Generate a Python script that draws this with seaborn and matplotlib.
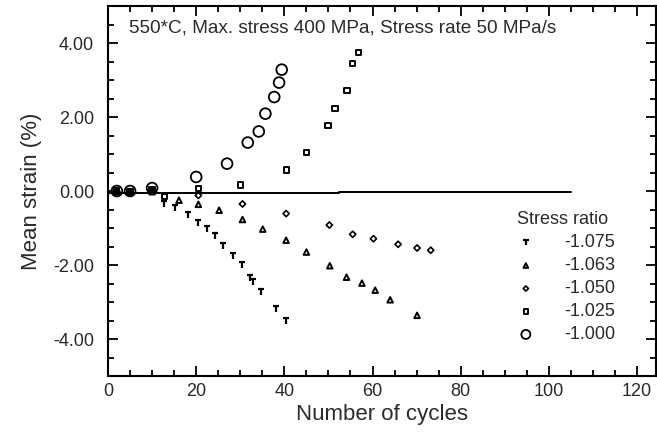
import numpy as np
import pandas as pd
import matplotlib
matplotlib.use("Agg")
import matplotlib.pyplot as plt
from matplotlib.path import Path
from matplotlib.ticker import MultipleLocator, FormatStrFormatter
import seaborn as sns

# ---------------- data ----------------
ratio_labels = ["-1.075", "-1.063", "-1.050", "-1.025", "-1.000"]

x_1075 = [2, 5, 10, 12.7, 15.3, 18.2, 20.5, 22.5, 24.3, 26.1, 28.3, 30.5, 32.2, 32.9, 34.8, 38.2, 40.4]
y_1075 = [-0.02, -0.04, -0.03, -0.36, -0.45, -0.66, -0.86, -1.03, -1.22, -1.48, -1.75, -2.01, -2.36, -2.47, -2.72, -3.19, -3.52]

x_1063 = [2, 5, 10, 16.1, 20.5, 25.2, 30.5, 35.1, 40.4, 45.0, 50.3, 54.1, 57.6, 60.6, 64.0, 70.1]
y_1063 = [-0.02, -0.03, -0.02, -0.25, -0.36, -0.52, -0.77, -1.03, -1.33, -1.65, -2.02, -2.33, -2.49, -2.68, -2.94, -3.36]

x_1050 = [2, 5, 10, 20.5, 30.5, 40.4, 50.2, 55.5, 60.2, 65.8, 70.1, 73.2]
y_1050 = [-0.01, -0.02, -0.01, -0.12, -0.35, -0.61, -0.92, -1.17, -1.29, -1.44, -1.54, -1.60]

x_1025 = [2, 5, 10, 12.8, 20.5, 30.0, 40.4, 45.0, 49.9, 51.5, 54.2, 55.4, 56.8]
y_1025 = [0.0, -0.01, 0.05, -0.14, 0.06, 0.16, 0.57, 1.04, 1.77, 2.24, 2.71, 3.45, 3.75]

x_1000 = [2, 5, 10, 20.0, 27.0, 31.7, 34.2, 35.7, 37.7, 38.8, 39.4]
y_1000 = [0.0, 0.0, 0.08, 0.38, 0.74, 1.31, 1.61, 2.09, 2.54, 2.93, 3.28]

zero_x = [0, 52.5, 52.5, 105]
zero_y = [-0.06, -0.06, -0.02, -0.02]

title_text = "550*C, Max. stress 400 MPa, Stress rate 50 MPa/s"

# ---------------- style ----------------
sns.set_theme(style="ticks")
plt.rcParams["font.family"] = ["Liberation Sans", "DejaVu Sans"]
txt_color = "#2a2a2a"

fig = plt.figure(figsize=(6.57, 4.33), dpi=100)
ax = fig.add_axes([0.1644, 0.1316, 0.8341, 0.8545])

t_marker = Path([(-1, 1), (1, 1), (0, 1), (0, -1)],
                [Path.MOVETO, Path.LINETO, Path.MOVETO, Path.LINETO])

series = [
    (x_1075, y_1075, t_marker, 22, 1.6),
    (x_1063, y_1063, "^", 16, 1.4),
    (x_1050, y_1050, "D", 10, 1.2),
    (x_1025, y_1025, "s", 14, 1.4),
    (x_1000, y_1000, "o", 60, 1.3),
]

handles = []
for (xs, ys, mk, size, lw), lab in zip(series, ratio_labels):
    df = pd.DataFrame({"cycles": xs, "strain": ys})
    sns.scatterplot(data=df, x="cycles", y="strain", ax=ax, marker=mk, s=size,
                    facecolors="none" if mk != t_marker else "black",
                    edgecolor="black", linewidth=lw, color="black", zorder=3)
    h = ax.scatter([], [], marker=mk, s=size * 0.7, facecolors="none",
                   edgecolors="black", linewidths=lw)
    handles.append(h)

ax.plot(zero_x, zero_y, color="black", lw=1.4, zorder=2)

ax.set_xlim(0, 124.3)
ax.set_ylim(-5, 5)
ax.xaxis.set_major_locator(MultipleLocator(20))
ax.xaxis.set_minor_locator(MultipleLocator(5))
ax.yaxis.set_major_locator(MultipleLocator(2))
ax.yaxis.set_minor_locator(MultipleLocator(0.5))
ax.yaxis.set_major_formatter(FormatStrFormatter("%.2f"))

ax.tick_params(which="both", direction="in", top=True, right=True,
               colors="black", labelcolor=txt_color, labelsize=13, width=1.3)
ax.tick_params(which="major", length=7)
ax.tick_params(which="minor", length=4)
ax.tick_params(axis="x", pad=5)
ax.tick_params(axis="y", pad=10)
for sp in ax.spines.values():
    sp.set_linewidth(1.5)
    sp.set_color("black")

ax.set_xlabel("Number of cycles", fontsize=16, color=txt_color, labelpad=3)
ax.set_ylabel("Mean strain (%)", fontsize=16, color=txt_color, labelpad=8)

ax.text(0.038, 0.94, title_text, transform=ax.transAxes, fontsize=13.7,
        color=txt_color, ha="left", va="center")

leg = ax.legend(handles=handles, labels=ratio_labels, title="Stress ratio",
                loc="upper left", bbox_to_anchor=(0.746, 0.445), frameon=False,
                fontsize=13, title_fontsize=13, handletextpad=1.6,
                labelspacing=0.33, alignment="left", handlelength=1.0,
                borderpad=0.0, borderaxespad=0.0)
for t in leg.get_texts():
    t.set_color(txt_color)
leg.get_title().set_color(txt_color)

fig.savefig("out.png", dpi=100)
